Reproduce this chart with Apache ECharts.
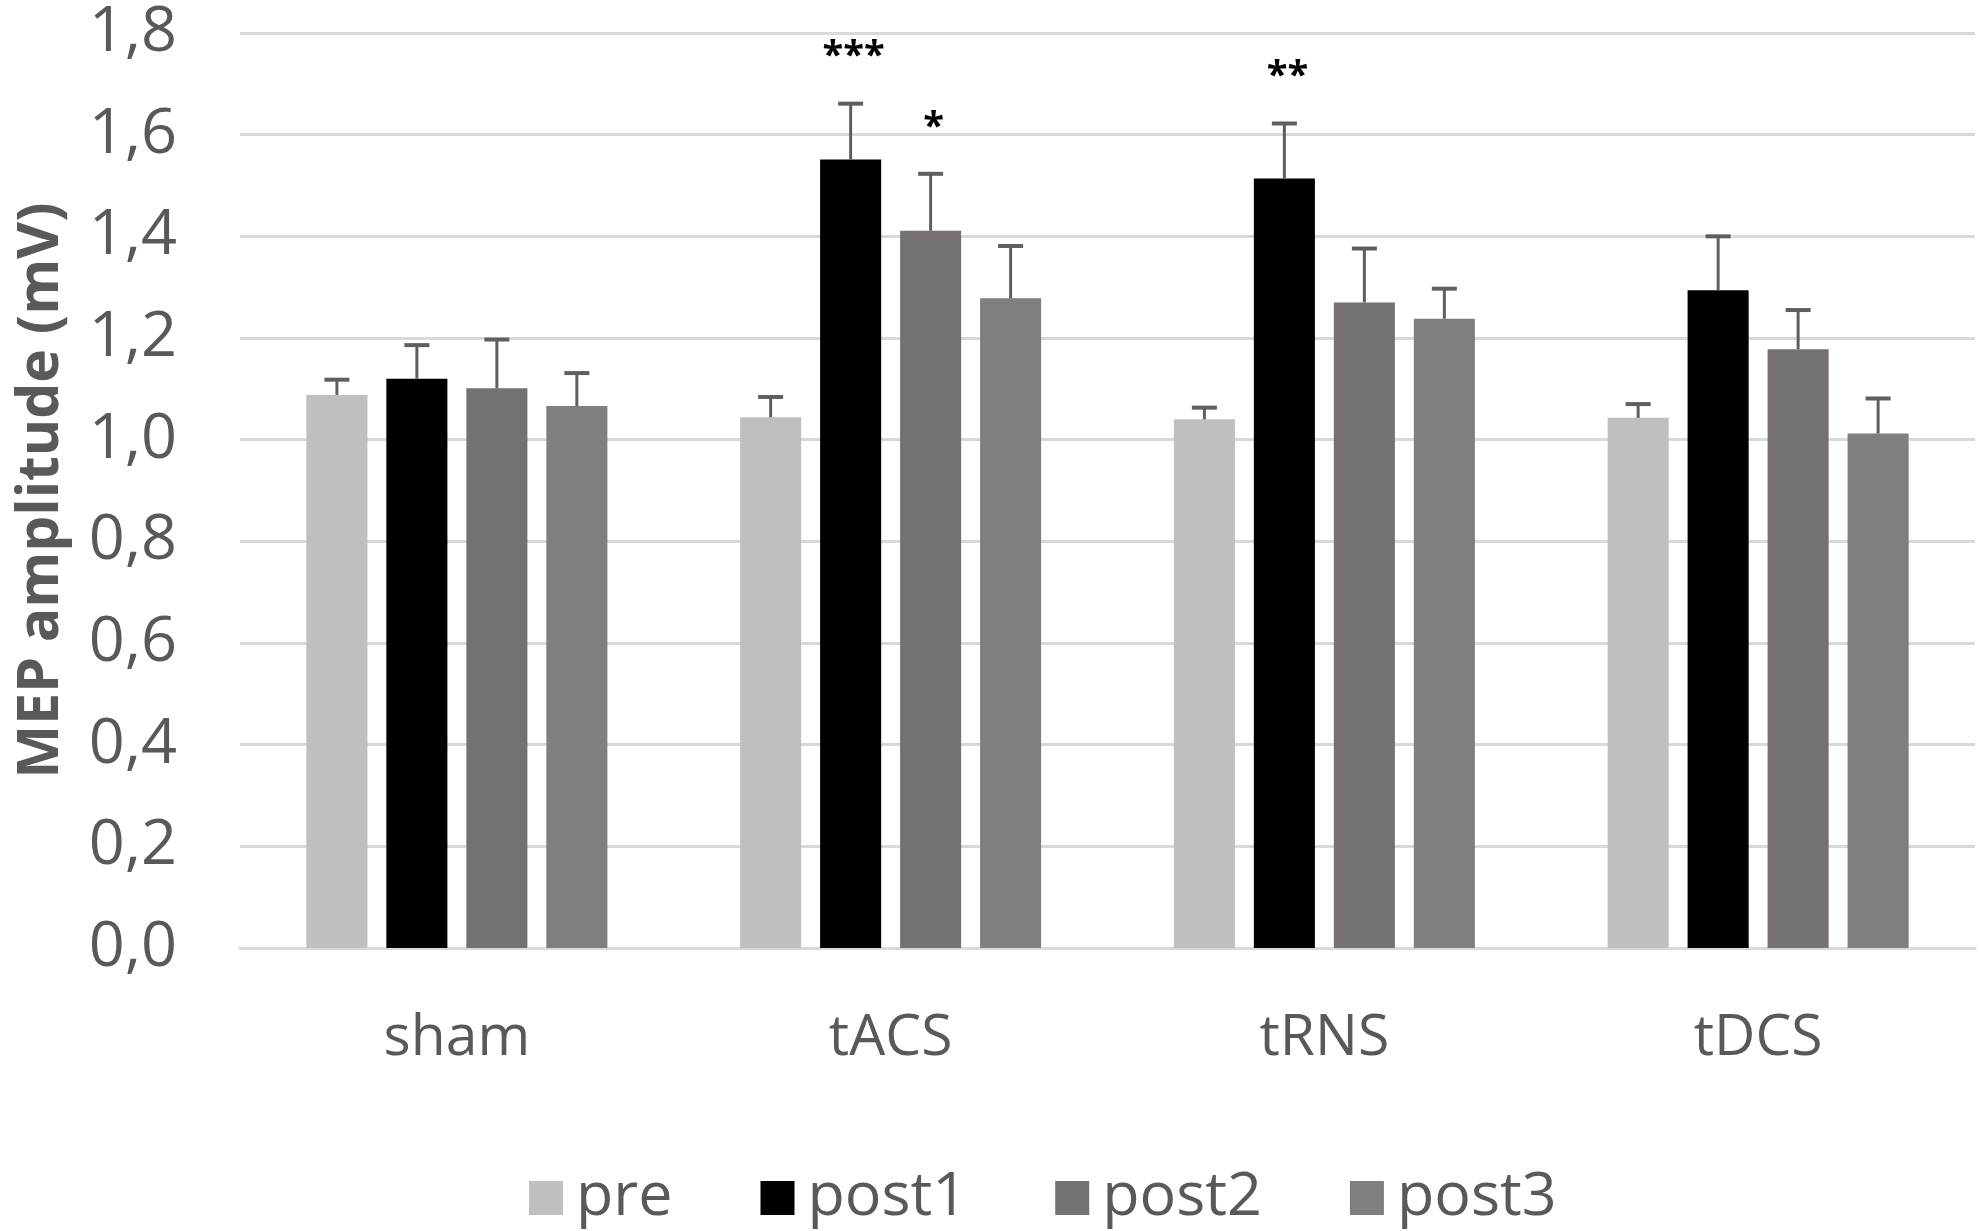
<!DOCTYPE html>
<html>
<head>
<meta charset="utf-8">
<script src="https://cdn.jsdelivr.net/npm/echarts@6/dist/echarts.min.js"></script>
<style>
html,body{margin:0;padding:0;background:#fff;}
#chart{width:1983px;height:1231px;}
</style>
</head>
<body>
<div id="chart"></div>
<script>
const categories = ['sham', 'tACS', 'tRNS', 'tDCS'];
const seriesNames = ['pre', 'post1', 'post2', 'post3'];
const pre   = [1.088, 1.044, 1.040, 1.043];
const post1 = [1.120, 1.551, 1.514, 1.294];
const post2 = [1.101, 1.411, 1.270, 1.178];
const post3 = [1.066, 1.278, 1.238, 1.012];
const preErr   = [0.030, 0.040, 0.023, 0.027];
const post1Err = [0.066, 0.110, 0.108, 0.106];
const post2Err = [0.096, 0.112, 0.106, 0.077];
const post3Err = [0.065, 0.103, 0.059, 0.069];
const preSig   = ['', '', '', ''];
const post1Sig = ['', '***', '**', ''];
const post2Sig = ['', '*', '', ''];
const post3Sig = ['', '', '', ''];
const yTicks = [0, 0.2, 0.4, 0.6, 0.8, 1.0, 1.2, 1.4, 1.6, 1.8];

const values = [pre, post1, post2, post3];
const errs = [preErr, post1Err, post2Err, post3Err];
const sigs = [preSig, post1Sig, post2Sig, post3Sig];
const colors = ['#bfbfbf', '#000000', '#767171', '#7f7f7f'];

const BAR_GAP = 0.31;
const CAT_GAP = 0.306;
const FONT = '"Open Sans", "Noto Sans", sans-serif';

function makeErrSeries(k) {
  return {
    type: 'custom',
    name: 'err_' + seriesNames[k],
    z: 10,
    silent: true,
    data: categories.map((c, i) => [i, values[k][i], values[k][i] + errs[k][i]]),
    encode: { x: 0, y: [1, 2] },
    renderItem: function (params, api) {
      const ci = api.value(0);
      const base = api.coord([ci, api.value(1)]);
      const top = api.coord([ci, api.value(2)]);
      const bandW = api.size([1, 0])[0];
      const n = seriesNames.length;
      const bw = (bandW - bandW * CAT_GAP) / (n + (n - 1) * BAR_GAP);
      const totalW = n * bw + (n - 1) * bw * BAR_GAP;
      const x = base[0] - totalW / 2 + k * bw * (1 + BAR_GAP) + bw / 2;
      const capHalf = 12.5;
      const stroke = '#5f5f5f';
      const children = [
        { type: 'line', shape: { x1: x, y1: base[1], x2: x, y2: top[1] }, style: { stroke: stroke, lineWidth: 3 } },
        { type: 'line', shape: { x1: x - capHalf, y1: top[1], x2: x + capHalf, y2: top[1] }, style: { stroke: stroke, lineWidth: 4 } }
      ];
      const s = sigs[k][params.dataIndex];
      if (s) {
        children.push({
          type: 'text',
          style: {
            text: s, x: x + 3, y: top[1] - 46,
            align: 'center', verticalAlign: 'middle',
            fontSize: 38, fontWeight: 'bold', fontFamily: FONT, fill: '#000'
          }
        });
      }
      return { type: 'group', children: children };
    }
  };
}

const chart = echarts.init(document.getElementById('chart'));
const barSeries = seriesNames.map((name, k) => ({
  type: 'bar',
  name: name,
  data: values[k],
  itemStyle: { color: colors[k] },
  barGap: (BAR_GAP * 100) + '%',
  barCategoryGap: (CAT_GAP * 100) + '%',
  silent: true
}));

chart.setOption({
  animation: false,
  backgroundColor: '#ffffff',
  grid: { left: 240, right: 8, top: 33, bottom: 283, containLabel: false },
  legend: {
    data: seriesNames,
    left: 524,
    top: 1160,
    icon: 'rect',
    itemWidth: 34,
    itemHeight: 34,
    itemGap: 88,
    textStyle: { fontSize: 61, color: '#595959', fontFamily: FONT, padding: [0, 0, 0, 8], lineHeight: 66 }
  },
  xAxis: {
    type: 'category',
    data: categories,
    axisTick: { show: false },
    axisLine: { show: true, lineStyle: { color: '#d9d9d9', width: 3 } },
    axisLabel: { fontSize: 57, color: '#595959', fontFamily: FONT, margin: 62 }
  },
  yAxis: {
    type: 'value',
    min: yTicks[0],
    max: yTicks[yTicks.length - 1],
    interval: 0.2,
    name: 'MEP amplitude (mV)',
    nameLocation: 'middle',
    nameRotate: 90,
    nameGap: 170,
    nameTextStyle: { fontSize: 57, fontWeight: 'bold', color: '#595959', fontFamily: FONT },
    axisLine: { show: false },
    axisTick: { show: false },
    splitLine: { lineStyle: { color: '#d9d9d9', width: 3 } },
    axisLabel: {
      fontSize: 63, color: '#595959', fontFamily: FONT, margin: 63,
      formatter: v => v.toFixed(1).replace('.', ',')
    }
  },
  series: barSeries.concat(seriesNames.map((n, k) => makeErrSeries(k)))
});
</script>
</body>
</html>
